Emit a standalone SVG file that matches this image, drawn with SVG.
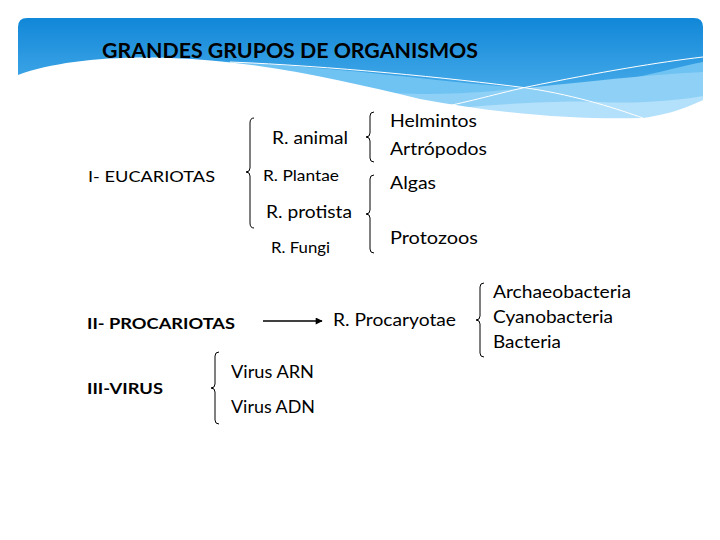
<svg xmlns="http://www.w3.org/2000/svg" width="720" height="540" viewBox="0 0 720 540">
<defs>
<linearGradient id="bg" x1="0" y1="0" x2="0" y2="1">
<stop offset="0" stop-color="#1187d8"/>
<stop offset="1" stop-color="#5cb9f0"/>
</linearGradient>
<marker id="ah" viewBox="0 0 10 10" refX="9" refY="5" markerWidth="8" markerHeight="7" markerUnits="userSpaceOnUse" orient="auto">
<path d="M0,0 L10,5 L0,10 Z" fill="#000"/>
</marker>
<style>
.t{font-family:Lato,"Open Sans","Liberation Sans",sans-serif;fill:#000;}
.b{font-weight:bold;}
.br{fill:none;stroke:#000;stroke-width:1;}
.wl{fill:none;stroke:#fff;stroke-width:1;}
</style>
</defs>
<rect width="720" height="540" fill="#fff"/>
<g id="banner">
<path d="M18,27 Q18,18 27,18 L694,18 Q703,18 703,27 L703,122 L18,122 Z" fill="url(#bg)"/>
<path d="M150,60 C300,60 430,82 527,88 C600,92 660,70 703,62 L703,122 L150,122 Z" fill="#6fc3f3"/>
<path d="M360,90 C430,98 480,92 527,88 C600,80 660,74 703,72 L703,122 L360,122 Z" fill="#8ed0f6"/>
<path d="M430,110 C500,104 560,100 600,102 C640,104 680,100 703,96 L703,122 L430,122 Z" fill="#b3e0fa"/>
<path d="M18,75 C55,62 105,56 170,58 C260,61 340,80 420,99 C500,114 580,120 643,118 C672,114 690,106 703,100 L703,135 L18,135 Z" fill="#fff"/>
<path class="wl" d="M230,62 C330,66 450,78 527,88 C580,96 620,110 643,118"/>
<path class="wl" d="M443,107 C480,99 500,93 527,87 C600,72 660,62 703,57"/>
<text class="t b" x="102" y="58" font-size="20" textLength="376" lengthAdjust="spacingAndGlyphs">GRANDES GRUPOS DE ORGANISMOS</text>
</g>
<g id="connectors">
<path class="br" d="M254,118 Q250,118 250,123 L250,168 Q250,172 246,172 Q250,172 250,176 L250,223 Q250,228 254,228"/>
<path class="br" d="M374,112 Q370,112 370,116 L370,133 Q370,137 366,137 Q370,137 370,141 L370,158 Q370,162 374,162"/>
<path class="br" d="M374,175 Q370,175 370,179 L370,210 Q370,214 366,214 Q370,214 370,218 L370,249 Q370,253 374,253"/>
<path class="br" d="M484,283 Q480,283 480,287 L480,316 Q480,320 476,320 Q480,320 480,324 L480,353 Q480,357 484,357"/>
<path class="br" d="M219,352 Q215,352 215,356 L215,384 Q215,388 211,388 Q215,388 215,392 L215,420 Q215,424 219,424"/>
<line x1="263" y1="321" x2="322" y2="321" stroke="#000" stroke-width="1.5" marker-end="url(#ah)"/>
</g>
<g id="eucariotas"><text class="t" x="88" y="182" font-size="16" textLength="127" lengthAdjust="spacingAndGlyphs">I- EUCARIOTAS</text></g>
<g id="animal"><text class="t" x="272" y="144" font-size="17" textLength="76" lengthAdjust="spacingAndGlyphs">R. animal</text></g>
<g id="plantae"><text class="t" x="263" y="181" font-size="15" textLength="76" lengthAdjust="spacingAndGlyphs">R. Plantae</text></g>
<g id="protista"><text class="t" x="266" y="218" font-size="17" textLength="86" lengthAdjust="spacingAndGlyphs">R. protista</text></g>
<g id="fungi"><text class="t" x="271" y="253" font-size="15" textLength="59" lengthAdjust="spacingAndGlyphs">R. Fungi</text></g>
<g id="helmintos"><text class="t" x="390" y="127" font-size="17" textLength="87" lengthAdjust="spacingAndGlyphs">Helmintos</text></g>
<g id="artropodos"><text class="t" x="390" y="155" font-size="17" textLength="97" lengthAdjust="spacingAndGlyphs">Artrópodos</text></g>
<g id="algas"><text class="t" x="390" y="189" font-size="17" textLength="46" lengthAdjust="spacingAndGlyphs">Algas</text></g>
<g id="protozoos"><text class="t" x="390" y="244" font-size="17" textLength="88" lengthAdjust="spacingAndGlyphs">Protozoos</text></g>
<g id="procariotas"><text class="t b" x="87" y="329" font-size="16" textLength="148" lengthAdjust="spacingAndGlyphs">II- PROCARIOTAS</text></g>
<g id="procaryotae"><text class="t" x="333" y="326" font-size="17" textLength="123" lengthAdjust="spacingAndGlyphs">R. Procaryotae</text></g>
<g id="archaeobacteria"><text class="t" x="493" y="298" font-size="17" textLength="138" lengthAdjust="spacingAndGlyphs">Archaeobacteria</text></g>
<g id="cyanobacteria"><text class="t" x="493" y="323" font-size="17" textLength="120" lengthAdjust="spacingAndGlyphs">Cyanobacteria</text></g>
<g id="bacteria"><text class="t" x="493" y="348" font-size="17" textLength="68" lengthAdjust="spacingAndGlyphs">Bacteria</text></g>
<g id="virus"><text class="t b" x="87" y="394" font-size="16" textLength="76" lengthAdjust="spacingAndGlyphs">III-VIRUS</text></g>
<g id="arn"><text class="t" x="231" y="378" font-size="17" textLength="83" lengthAdjust="spacingAndGlyphs">Virus ARN</text></g>
<g id="adn"><text class="t" x="231" y="413" font-size="17" textLength="84" lengthAdjust="spacingAndGlyphs">Virus ADN</text></g>
</svg>
